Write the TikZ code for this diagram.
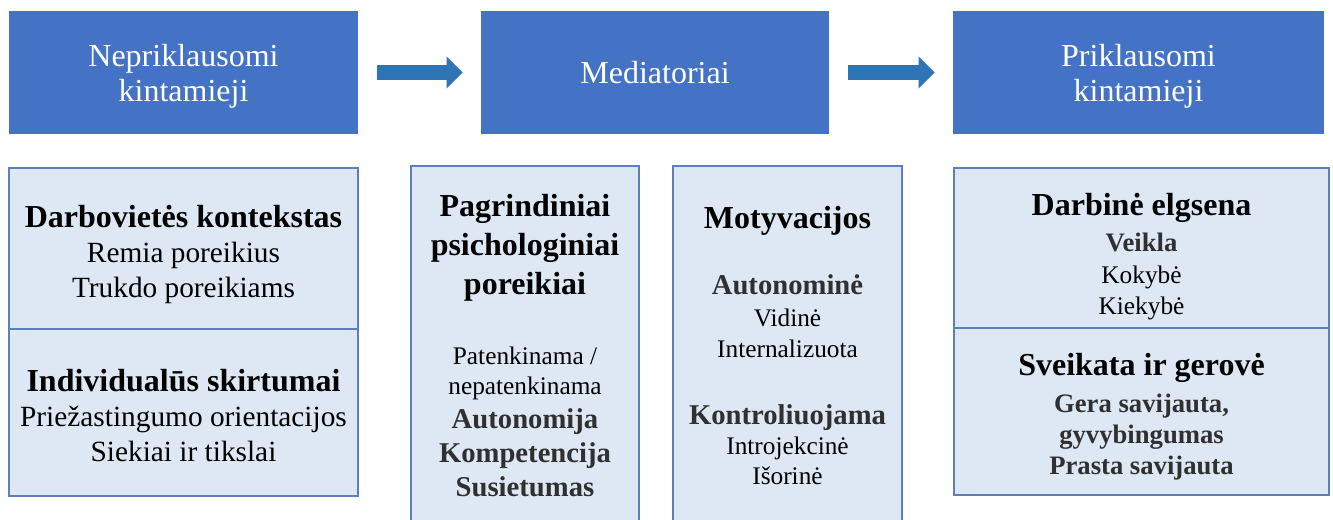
\documentclass[tikz,border=0pt]{standalone}
\usepackage{fontspec}
\setmainfont{Liberation Serif}
\usetikzlibrary{arrows.meta}
\definecolor{headblue}{HTML}{4472C4}
\definecolor{arrowblue}{HTML}{2E75B6}
\definecolor{panelfill}{HTML}{DEE8F4}
\definecolor{panelline}{HTML}{5E7FBA}
\definecolor{subgray}{HTML}{303030}
\newlength{\pxu}\setlength{\pxu}{0.75pt}
\newcommand{\ttl}[1]{{\fontsize{24}{24}\selectfont\bfseries #1}}
\newcommand{\sub}[1]{{\fontsize{21.5}{21.5}\selectfont\bfseries\color{subgray}#1}}
\newcommand{\subs}[1]{{\fontsize{20}{20}\selectfont\bfseries\color{subgray}#1}}
\newcommand{\itm}[1]{{\fontsize{22}{22}\selectfont #1}}
\newcommand{\sml}[1]{{\fontsize{19}{19}\selectfont #1}}
\tikzset{
  head/.style={fill=headblue, text=white, align=center, inner sep=0pt,
    minimum height=123\pxu, font=\fontsize{24}{26.25}\selectfont},
  headtxt/.style={text=white, align=center, inner sep=0pt, font=\fontsize{24}{26.25}\selectfont},
  panel/.style={draw=panelline, fill=panelfill, line width=1.1pt, inner sep=0pt},
  txt/.style={align=center, inner sep=0pt},
  flow/.style={-{Triangle[length=12pt, width=23.25pt]}, line width=11.25pt, draw=arrowblue,
    shorten <=14.25pt, shorten >=13.5pt}
}

\begin{document}
\begin{tikzpicture}[x=0.75pt, y=-0.75pt]
  \clip (0,0) rectangle (1333,519);

  % column heads
  \node[head, minimum width=349\pxu] (indep) at (183.5,72.5) {};
  \node[head, minimum width=348\pxu] (med) at (655,72.5) {Mediatoriai};
  \node[head, minimum width=371\pxu] (dep) at (1138.5,72.5) {};
  \node[headtxt] (indep-l) at (183.5,76.5) {Nepriklausomi\\kintamieji};
  \node[headtxt] (dep-l) at (1138.5,76.5) {Priklausomi\\kintamieji};
  \draw[flow] (indep) -- (med);
  \draw[flow] (med) -- (dep);

  % independent variables
  \node[panel, minimum width=349\pxu, minimum height=161\pxu] (ctx) at (183.5,248.5) {};
  \node[panel, minimum width=349\pxu, minimum height=167\pxu] (indiv) at (183.5,412.5) {};
  \node[txt, font=\fontsize{22}{26.25}\selectfont] (ctx-t) at (183.5,254.5)
    {\ttl{Darbovietės kontekstas}\\\itm{Remia poreikius}\\\itm{Trukdo poreikiams}};
  \node[txt, font=\fontsize{22}{26.25}\selectfont] (indiv-t) at (183.5,416)
    {\ttl{Individualūs skirtumai}\\\itm{Priežastingumo orientacijos}\\\itm{Siekiai ir tikslai}};

  % mediators
  \node[panel, minimum width=228\pxu, minimum height=364\pxu] (needs) at (525,348) {};
  \node[panel, minimum width=229\pxu, minimum height=364\pxu] (motiv) at (787.5,348) {};

  \node[txt, font=\fontsize{24}{29.25}\selectfont] (needs-t) at (525,248)
    {\ttl{Pagrindiniai}\\\ttl{psichologiniai}\\\ttl{poreikiai}};
  \node[txt, font=\fontsize{19}{25.5}\selectfont] (needs-b) at (525,421.5)
    {\sml{Patenkinama /}\\[-3pt]\sml{nepatenkinama}\\\sub{Autonomija}\\\sub{Kompetencija}\\\sub{Susietumas}};

  \node[txt] (motiv-t) at (787.5,221) {\ttl{Motyvacijos}};
  \node[txt, font=\fontsize{19}{23.6}\selectfont] (motiv-a) at (787.5,316.5)
    {\sub{Autonominė}\\\sml{Vidinė}\\\sml{Internalizuota}};
  \node[txt, font=\fontsize{19}{22.5}\selectfont] (motiv-c) at (787.5,445)
    {\sub{Kontroliuojama}\\\sml{Introjekcinė}\\\sml{Išorinė}};

  % dependent variables
  \node[panel, minimum width=375\pxu, minimum height=160\pxu] (beh) at (1141.5,248) {};
  \node[panel, minimum width=375\pxu, minimum height=167\pxu] (health) at (1141.5,411.5) {};
  \node[txt, font=\fontsize{19}{23.6}\selectfont] (beh-t) at (1141.5,257)
    {\ttl{Darbinė elgsena}\\[3.5pt]\subs{Veikla}\\\sml{Kokybė}\\\sml{Kiekybė}};
  \node[txt, font=\fontsize{19}{23.25}\selectfont] (health-t) at (1141.5,416.5)
    {\ttl{Sveikata ir gerovė}\\[4.5pt]\subs{Gera savijauta,}\\\subs{gyvybingumas}\\\subs{Prasta savijauta}};
\end{tikzpicture}
\end{document}
